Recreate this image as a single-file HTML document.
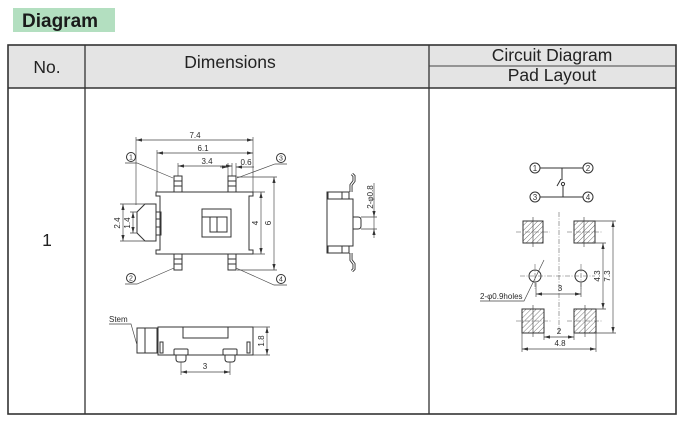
<!DOCTYPE html>
<html><head><meta charset="utf-8"><style>
html,body{margin:0;padding:0;background:#fff;}
svg{display:block;}
.o{fill:none;stroke:#333;stroke-width:1;}
.d{fill:none;stroke:#444;stroke-width:0.65;}
.dm{fill:none;stroke:#444;stroke-width:0.65;marker-start:url(#ar);marker-end:url(#ar);}
.de{fill:none;stroke:#444;stroke-width:0.65;marker-end:url(#ar);}
.c{fill:none;stroke:#555;stroke-width:0.55;stroke-dasharray:5 1.5 1 1.5;}
.t{font-family:"Liberation Sans",Arial,sans-serif;font-size:8px;fill:#2a2a2a;}
.h{font-family:"Liberation Sans",Arial,sans-serif;font-size:17.5px;fill:#222;}
</style></head><body>
<svg width="694" height="423" viewBox="0 0 694 423" xmlns="http://www.w3.org/2000/svg">
<defs>
<marker id="ar" viewBox="0 0 6 4" refX="6" refY="2" markerWidth="6" markerHeight="4" markerUnits="userSpaceOnUse" orient="auto-start-reverse"><path d="M0,0.4 L6,2 L0,3.6z" fill="#333"/></marker>
<pattern id="hatch" patternUnits="userSpaceOnUse" width="3.6" height="3.6" patternTransform="rotate(45)"><line x1="0" y1="0" x2="0" y2="3.6" stroke="#555" stroke-width="0.8"/></pattern>
</defs>
<rect x="0" y="0" width="694" height="423" fill="#fff"/>

<!-- Title -->
<rect x="13" y="8" width="102" height="24" fill="#b3dfc0"/>
<text x="22" y="27" font-family="'Liberation Sans',Arial,sans-serif" font-size="19" font-weight="bold" fill="#1a1a1a">Diagram</text>

<!-- Table -->
<rect x="8" y="45" width="668" height="43" fill="#e4e4e4"/>
<rect x="8" y="45" width="668" height="369" fill="none" stroke="#333" stroke-width="1.6"/>
<line x1="8" y1="88" x2="676" y2="88" stroke="#333" stroke-width="1.4"/>
<line x1="85" y1="45" x2="85" y2="414" stroke="#333" stroke-width="1.3"/>
<line x1="429" y1="45" x2="429" y2="414" stroke="#333" stroke-width="1.3"/>
<line x1="429" y1="66" x2="676" y2="66" stroke="#444" stroke-width="1.1"/>
<text class="h" x="47" y="73" text-anchor="middle">No.</text>
<text class="h" x="230" y="68" text-anchor="middle">Dimensions</text>
<text class="h" x="552" y="61" text-anchor="middle">Circuit Diagram</text>
<text class="h" x="552" y="81" text-anchor="middle">Pad Layout</text>
<text class="h" x="47" y="246" text-anchor="middle">1</text>

<!-- ===== Top view ===== -->
<path class="d" d="M136,137 V205 M253,137 V192 M157,150 V192 M178,163 V176 M232,163 V176 M228,163 V176 M236,163 V176"/>
<path class="dm" d="M136,140 H253"/>
<path class="dm" d="M157,153 H253"/>
<path class="dm" d="M178,166 H232"/>
<path class="de" d="M220,167 H228"/>
<path class="de" d="M254,167 H236"/>
<text class="t" x="195" y="138" text-anchor="middle">7.4</text>
<text class="t" x="203" y="151" text-anchor="middle">6.1</text>
<text class="t" x="207" y="164" text-anchor="middle">3.4</text>
<text class="t" x="246" y="165" text-anchor="middle">0.6</text>

<polygon class="o" points="156,192 253,192 253,196 249,196 249,250 253,250 253,254 156,254 156,250 160,250 160,196 156,196"/>
<g class="o">
<rect x="174" y="176" width="8" height="16"/><path d="M174,181 H182 M174,186 H182"/>
<rect x="228" y="176" width="8" height="16"/><path d="M228,181 H236 M228,186 H236"/>
<rect x="174" y="254" width="8" height="16"/><path d="M174,259 H182 M174,264 H182"/>
<rect x="228" y="254" width="8" height="16"/><path d="M228,259 H236 M228,264 H236"/>
</g>
<polygon class="o" points="145,204 137,212 137,233 145,241 156,241 156,204"/>
<rect class="o" x="156" y="212" width="5" height="23"/>
<path class="o" d="M156,219 H161 M156,227 H161"/>
<rect class="o" x="202" y="209" width="29" height="28"/>
<rect class="o" x="210" y="217" width="17" height="15"/>
<path class="o" d="M217,217 V232 M202,217 H210"/>

<path class="d" d="M253,192 H265 M253,254 H265 M237,177 H277 M237,270 H277"/>
<path class="dm" d="M261,192 V254"/>
<path class="dm" d="M274,177 V270"/>
<text class="t" transform="translate(258,223) rotate(-90)" text-anchor="middle">4</text>
<text class="t" transform="translate(271,223) rotate(-90)" text-anchor="middle">6</text>

<path class="d" d="M120,204 H145 M120,241 H145 M130,212 H137 M130,233 H137"/>
<path class="dm" d="M123,204 V241"/>
<path class="dm" d="M133,212 V233"/>
<text class="t" transform="translate(120,223) rotate(-90)" text-anchor="middle">2.4</text>
<text class="t" transform="translate(130,223) rotate(-90)" text-anchor="middle">1.4</text>

<g class="o" stroke-width="0.8">
<circle cx="131" cy="157" r="4.5"/><circle cx="281" cy="158" r="4.5"/>
<circle cx="131" cy="278" r="4.5"/><circle cx="281" cy="279" r="4.5"/>
</g>
<path class="d" d="M125,163 H137 L173,178 M287,164 H275 L237,178 M125,284 H137 L174,268 M287,285 H274 L236,268"/>
<g font-family="'Liberation Sans',Arial,sans-serif" font-size="7" fill="#333" text-anchor="middle">
<text x="131" y="159.5">1</text><text x="281" y="160.5">3</text>
<text x="131" y="280.5">2</text><text x="281" y="281.5">4</text>
</g>

<!-- ===== Side view ===== -->
<polygon class="o" points="327,192 349,192 349,199 353,199 353,246 349,246 349,253 327,253"/>
<rect class="o" x="328" y="192" width="21" height="7"/>
<rect class="o" x="328" y="246" width="21" height="7"/>
<path class="o" d="M342,192 V199 M342,246 V253"/>
<path d="M351,192 V185 L354,181 V176 L352,174" fill="none" stroke="#333" stroke-width="3"/>
<path d="M351,192 V185 L354,181 V176 L352,174" fill="none" stroke="#fff" stroke-width="1.2"/>
<path d="M351,253 V260 L354,264 V269 L352,271" fill="none" stroke="#333" stroke-width="3"/>
<path d="M351,253 V260 L354,264 V269 L352,271" fill="none" stroke="#fff" stroke-width="1.2"/>
<path class="o" d="M353,217 H358 Q361,217 361,220 V226 Q361,229 358,229 H353"/>
<path class="d" d="M361,217 H377 M361,229 H377 M374,217 V229"/>
<path class="de" d="M374,183 V217"/>
<path class="de" d="M374,238 V229"/>
<text class="t" transform="translate(373,197) rotate(-90)" text-anchor="middle">2-φ0.8</text>

<!-- ===== Bottom view ===== -->
<rect class="o" x="137" y="328" width="20" height="25"/>
<path class="o" d="M145,328 V353"/>
<rect class="o" x="158" y="327" width="95" height="28"/>
<rect class="o" x="183" y="327" width="45" height="11"/>
<rect class="o" x="160" y="342" width="3" height="11"/>
<rect class="o" x="247" y="342" width="3" height="11"/>
<rect class="o" x="174" y="349" width="14" height="6" rx="1"/>
<path class="o" d="M176,355 V359 Q176,362 179,362 H183 Q186,362 186,359 V355"/>
<rect class="o" x="223" y="349" width="14" height="6" rx="1"/>
<path class="o" d="M225,355 V359 Q225,362 228,362 H232 Q235,362 235,359 V355"/>
<path class="d" d="M253,327 H270 M253,355 H270 M181,362 V375 M230,362 V375"/>
<path class="dm" d="M267,327 V355"/>
<path class="dm" d="M181,372 H230"/>
<text class="t" transform="translate(264,341) rotate(-90)" text-anchor="middle">1.8</text>
<text class="t" x="205" y="369" text-anchor="middle">3</text>
<text class="t" x="109" y="322">Stem</text>
<path class="d" d="M109,324 H131 L137,345"/>

<!-- ===== Circuit ===== -->
<g class="o" stroke-width="0.9">
<circle cx="535" cy="168" r="5"/><circle cx="588" cy="168" r="5"/>
<circle cx="535" cy="197" r="5"/><circle cx="588" cy="197" r="5"/>
<path d="M540,168 H583 M540,197 H583 M562,168 V180 M557,186 L561,179 M563,186 V197"/>
<circle cx="563" cy="184" r="1.6"/>
</g>
<g font-family="'Liberation Sans',Arial,sans-serif" font-size="8" fill="#333" text-anchor="middle">
<text x="535" y="171">1</text><text x="588" y="171">2</text>
<text x="535" y="200">3</text><text x="588" y="200">4</text>
</g>

<!-- ===== Pad layout ===== -->
<path class="c" d="M559,212 V333"/>
<g>
<rect x="523" y="221" width="20" height="22" fill="url(#hatch)" stroke="#333" stroke-width="1"/>
<rect x="574" y="221" width="21" height="22" fill="url(#hatch)" stroke="#333" stroke-width="1"/>
<rect x="522" y="309" width="22" height="24" fill="url(#hatch)" stroke="#333" stroke-width="1"/>
<rect x="574" y="309" width="22" height="24" fill="url(#hatch)" stroke="#333" stroke-width="1"/>
</g>
<path class="c" d="M516,232 H550 M567,232 H603 M516,321 H551 M567,321 H603"/>
<path class="d" d="M533,217 V247 M584,217 V247 M533,305 V337 M585,305 V337"/>
<circle class="o" cx="535" cy="276" r="6"/>
<circle class="o" cx="581" cy="276" r="6"/>
<path class="c" d="M520,276 H595 M535,264 V289 M581,264 V289"/>
<path class="d" d="M536,283 V297 M581,283 V297 M544,333 V340 M574,333 V340 M522,333 V352 M596,333 V352"/>
<path class="dm" d="M536,294 H581"/>
<path class="dm" d="M544,337 H574"/>
<path class="dm" d="M522,349 H596"/>
<text class="t" x="560" y="291" text-anchor="middle">3</text>
<text class="t" x="559" y="334" text-anchor="middle">2</text>
<text class="t" x="560" y="346" text-anchor="middle">4.8</text>
<path class="d" d="M595,243 H606 M596,309 H606 M595,221 H616 M596,333 H616"/>
<path class="dm" d="M603,243 V309"/>
<path class="dm" d="M613,221 V333"/>
<text class="t" transform="translate(600,276) rotate(-90)" text-anchor="middle">4.3</text>
<text class="t" transform="translate(610,276) rotate(-90)" text-anchor="middle">7.3</text>
<text class="t" x="480" y="299">2-φ0.9holes</text>
<path class="d" d="M480,301 H524 L544,260"/>
</svg>
</body></html>
